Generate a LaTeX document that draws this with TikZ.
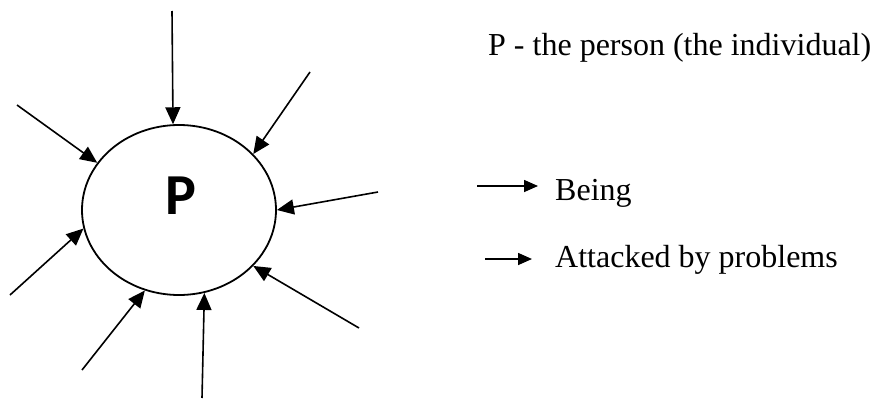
\documentclass[tikz,border=0pt]{standalone}
\usepackage{fontspec}
\setmainfont{Liberation Serif}
\newfontfamily\pfont{Carlito}
\usetikzlibrary{arrows.meta,shapes.geometric}
\begin{document}
\begin{tikzpicture}[x=1pt,y=-1pt,
  attack/.style={line width=1.6pt,-{Triangle[length=17pt,width=15pt]}},
  legarrow/.style={line width=1.6pt,-{Triangle[length=14pt,width=12pt]}},
  lbl/.style={font=\fontsize{32}{38}\selectfont,anchor=base west,inner sep=0pt}]
\useasboundingbox (0,0) rectangle (876,399);
\node[ellipse,draw,line width=1.8pt,minimum width=194pt,minimum height=170pt,inner sep=0pt] (P) at (179,210) {};
\node[font=\pfont\bfseries\fontsize{58}{60}\selectfont,inner sep=0pt] (Pl) at (181,196) {P};
\coordinate (s1) at (172,11);
\coordinate (s2) at (310,72);
\coordinate (s3) at (378,192);
\coordinate (s4) at (359,328);
\coordinate (s5) at (202,398);
\coordinate (s6) at (82,370);
\coordinate (s7) at (10,295);
\coordinate (s8) at (17,105);
\draw[attack] (s1) -- (P.94.7);
\draw[attack] (s2) -- (P.37);
\draw[attack] (s3) -- (P.0.6);
\draw[attack] (s4) -- (P.-37.6);
\draw[attack] (s5) -- (P.-73.8);
\draw[attack] (s6) -- (P.-113);
\draw[attack] (s7) -- (P.-169);
\draw[attack] (s8) -- (P.150.7);
\node[lbl] (title) at (488,55) {P - the person (the individual)};
\node[lbl] (being) at (555,200) {Being};
\node[lbl] (attacked) at (555,267) {Attacked by problems};
\coordinate (b1) at (477,186);
\coordinate (b2) at (538,186);
\coordinate (a1) at (485,259);
\coordinate (a2) at (532,259);
\draw[legarrow] (b1) -- (b2);
\draw[legarrow] (a1) -- (a2);
\end{tikzpicture}
\end{document}
